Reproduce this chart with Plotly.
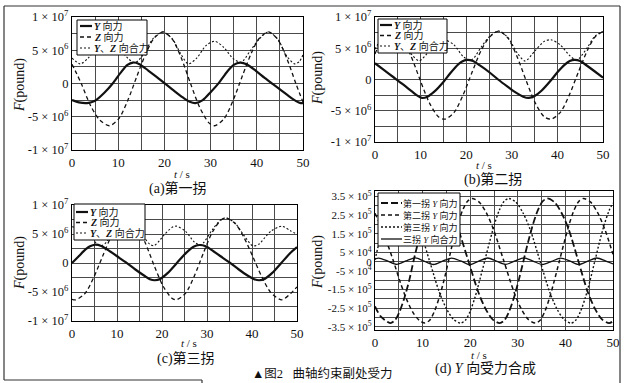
import plotly.graph_objects as go

# ---------------- data ----------------
# panels (a)-(c): force in units of 1e6 pound ; time in s
ta_y = [0, 1.5, 3.3, 5, 7, 8.8, 10.5, 12, 13.2, 14.5, 16.5, 18.3, 20, 22, 24, 25.5, 26.7, 28.3, 30, 31.8,
        33.5, 35, 36.4, 37.8, 39.8, 41.7, 43.5, 45.5, 47.5, 48.5, 49.5, 50]
a_y = [-2.5, -2.85, -2.95, -2.6, -1.4, 0.0, 1.6, 2.8, 3.15, 2.95, 1.95, 1.0, 0.05, -1.05, -2.1, -2.75, -2.95, -2.5, -1.3, 0.1,
       1.7, 2.8, 3.15, 2.9, 1.9, 0.85, -0.1, -1.15, -2.2, -2.65, -2.95, -2.95]
ta_z = [0, 1, 2, 4, 6, 8.1, 10.1, 12.1, 14.1, 16.1, 17.7, 19.7, 21.7, 23.7, 25.7, 27.7, 29.7, 30.9, 32.9, 34.9,
        36.9, 38.9, 40.5, 42.5, 44.5, 46.5, 48.5, 50]
a_z = [2.9, 1.5, 0.0, -3.3, -5.5, -6.35, -5.31, -2.5, 1.19, 4.69, 6.76, 7.75, 6.67, 3.76, -0.09, -3.69, -5.96, -6.35, -5.31, -2.5,
       1.19, 4.69, 6.76, 7.75, 6.67, 3.76, -0.09, -2.8]
ta_r = [0, 1.8, 3.5, 5, 6.5, 8.1, 10.1, 12.1, 13.6, 15.2, 17.7, 19.7, 21.7, 23.5, 25.2, 27, 29, 30.9, 32.9, 34.9,
        36.6, 38.5, 40.5, 42.5, 44.5, 46.5, 48.2, 49.2, 50]
a_r = [3.83, 2.95, 3.83, 5.11, 6.07, 6.4, 5.46, 3.79, 3.11, 4.12, 6.88, 7.75, 6.73, 4.5, 2.95, 3.83, 5.7, 6.35, 5.4, 3.72,
       3.19, 4.83, 6.67, 7.76, 6.7, 4.1, 2.95, 3.3, 4.3]

tb_y = [0, 2, 4, 6, 8, 9.2, 10.3, 11.5, 13, 15, 16.5, 18, 19, 20.2, 21.5, 23, 25, 27, 29, 31,
        32.5, 33.7, 35, 36.5, 38.5, 40, 41.5, 42.7, 43.8, 45, 46.5, 48, 50]
b_y = [2.6, 1.5, 0.4, -0.7, -1.85, -2.55, -2.95, -2.75, -1.95, -0.4, 1.0, 2.25, 2.85, 3.15, 2.95, 2.25, 1.2, 0.0, -1.1, -2.15,
       -2.75, -2.95, -2.65, -1.8, -0.2, 1.15, 2.3, 2.95, 3.15, 2.95, 2.2, 1.4, 0.3]
tb_z = [0, 1.9, 3.9, 5.9, 7.9, 9.9, 11.9, 13.9, 15.3, 17.3, 19.3, 21.3, 23.3, 25.1, 27.1, 29.1, 31.1, 33.1, 35.1, 37.1,
        38.6, 40.6, 42.6, 44.6, 46.6, 48.2, 50]
b_z = [4.1, 6.76, 7.75, 6.67, 3.76, -0.09, -3.69, -5.96, -6.35, -5.31, -2.5, 1.19, 4.69, 6.76, 7.75, 6.67, 3.76, -0.09, -3.69, -5.96,
       -6.35, -5.31, -2.5, 1.19, 4.69, 6.76, 7.7]
tb_r = [0, 1.9, 3.9, 5.9, 7.9, 9.7, 11.9, 13.9, 15.3, 17.3, 19.3, 20.7, 21.5, 23.3, 25.1, 27.1, 29.1, 31.1, 32.9, 35.1,
        37.1, 38.6, 40.6, 42.6, 44, 44.8, 46.6, 48.2, 50]
b_r = [4.85, 6.95, 7.77, 6.7, 4.13, 3.0, 4.55, 6.1, 6.36, 5.55, 3.7, 3.1, 3.3, 5.2, 6.87, 7.75, 6.76, 4.35, 2.95, 4.6,
       6.1, 6.35, 5.55, 3.9, 3.15, 3.4, 5.15, 6.9, 7.7]

tc_y = [0, 1.5, 3, 4, 5.1, 6.5, 8.5, 10.5, 12, 14, 16, 17.3, 18.4, 19.7, 21.3, 23.3, 25.3, 27, 28.3, 29.7,
        31.5, 33.5, 35, 37, 39, 40.5, 41.6, 42.9, 44.5, 46.5, 48.5, 50]
c_y = [0.0, 1.17, 2.34, 2.88, 3.15, 2.93, 1.98, 0.9, 0.09, -1.08, -2.16, -2.79, -2.97, -2.7, -1.71, 0.0, 1.71, 2.79, 3.1, 2.88,
       1.98, 0.9, 0.09, -1.08, -2.16, -2.79, -2.97, -2.7, -1.71, 0.0, 1.71, 2.75]
tc_z = [0, 0.8, 2.8, 4.8, 6.8, 8.8, 10.3, 12.2, 14.2, 16.2, 18.2, 20.2, 22.2, 23.2, 25.2, 27.2, 29.2, 31.2, 33.2, 34.2,
        36.2, 38.2, 40.2, 42.2, 44.2, 46.6, 48.6, 50]
c_z = [-6.26, -6.35, -5.33, -2.55, 1.16, 4.78, 6.82, 7.75, 6.64, 3.62, -0.32, -3.94, -6.08, -6.35, -5.24, -2.22, 1.72, 5.34, 7.47, 7.75,
       6.86, 4.43, 1.06, -2.41, -5.1, -6.35, -5.24, -4.12]
tc_r = [0, 2, 4, 5.5, 6.5, 7.5, 9, 10.5, 12.2, 14.2, 16.2, 17.3, 18.2, 19.5, 20.2, 22.2, 23.2, 25.2, 27.2, 28.5,
        29.2, 31.2, 33.2, 34.2, 36.2, 38.2, 40.2, 41.6, 42.2, 44.2, 46.6, 48.6, 50]
c_r = [6.26, 5.9, 4.66, 3.34, 2.99, 3.47, 5.28, 6.96, 7.75, 6.75, 4.24, 3.22, 2.97, 3.92, 4.61, 6.13, 6.35, 5.49, 3.61, 3.08,
       3.46, 5.76, 7.54, 7.77, 6.9, 4.78, 2.95, 3.28, 3.77, 5.48, 6.35, 5.53, 4.95]

# panel (d): Y force in units of 1e5 pound
td1 = [0, 1.2, 3.2, 4.2, 5.2, 6.2, 7.2, 8.1, 9.1, 10.1, 11.1, 12.1, 13.0, 14.5, 16, 17.5, 19.6, 21.7, 23.2, 24.7,
       26.2, 27.2, 28.2, 29.2, 30.2, 31.2, 32.2, 33.2, 34.2, 35.2, 36.2, 37.7, 39.2, 40.7, 42.7, 44.7, 46.2, 47.7, 49.2, 50]
d1 = [-2.4, -2.94, -3.3, -3.14, -2.66, -1.92, -0.99, 0.05, 1.09, 2.02, 2.76, 3.24, 3.4, 3.2, 2.62, 1.73, 0.05, -1.63, -2.52, -3.1,
      -3.3, -3.14, -2.66, -1.92, -0.99, 0.05, 1.09, 2.02, 2.76, 3.24, 3.4, 3.2, 2.62, 1.73, 0.05, -1.63, -2.52, -3.1, -3.3, -3.2]
td2 = [0, 1.1, 2.5, 3.85, 5.3, 6.6, 8, 9.3, 10.5, 11.5, 12.5, 13.5, 14.5, 15.45, 16.4, 17.4, 18.4, 19.4, 20.4, 21.9,
       23.4, 24.9, 27.05, 29.2, 30.7, 32.2, 33.7, 34.7, 35.7, 36.7, 37.7, 38.75, 39.8, 40.8, 41.8, 42.8, 43.8, 45.3, 46.8, 48.3, 50]
d2 = [2.6, 2.0, 1.05, 0.05, -1.1, -2.0, -2.74, -3.15, -3.3, -3.14, -2.66, -1.92, -0.99, 0.05, 1.09, 2.02, 2.76, 3.24, 3.4, 3.2,
      2.62, 1.73, 0.05, -1.63, -2.52, -3.1, -3.3, -3.14, -2.66, -1.92, -0.99, 0.05, 1.09, 2.02, 2.76, 3.24, 3.4, 3.2, 2.62, 1.73, 0.4]
td3 = [0, 1, 2, 3, 4, 4.9, 6.4, 7.9, 9.4, 11.45, 13.5, 15, 16.5, 18, 19, 20, 21, 22, 23.05, 24.1,
       25.1, 26.1, 27.1, 28.1, 29.6, 31.1, 32.6, 34.65, 36.7, 38.2, 39.7, 41.2, 42.2, 43.2, 44.2, 45.2, 46.2, 47.2, 48.2, 49.2, 50]
d3 = [0.1, 1.18, 2.05, 2.78, 3.25, 3.4, 3.2, 2.62, 1.73, 0.05, -1.63, -2.52, -3.1, -3.3, -3.14, -2.66, -1.92, -0.99, 0.05, 1.09,
      2.02, 2.76, 3.24, 3.4, 3.2, 2.62, 1.73, 0.05, -1.63, -2.52, -3.1, -3.3, -3.14, -2.66, -1.92, -0.99, 0.05, 1.09, 2.02, 2.76, 3.15]
tdr = [0, 0.8, 2.7, 4.6, 6.5, 8.5, 10.4, 12.3, 14.2, 16.1, 18, 19.9, 21.8, 23.7, 25.6, 27.5, 29.4, 31.3, 33.2, 35.2,
       37.1, 39, 40.9, 42.8, 44.7, 46.6, 48.5, 50]
dr = [0.15, 0.19, 0.03, -0.14, 0.04, 0.21, 0.02, -0.15, 0.03, 0.19, 0.04, -0.16, 0.03, 0.2, 0.02, -0.14, 0.04, 0.21, 0.03, -0.15,
      0.02, 0.19, 0.04, -0.15, 0.03, 0.2, 0.03, -0.12]

# labelled ticks and extra (unlabelled) grid positions
x_ticks = [0, 10, 20, 30, 40, 50]
x_minor = [5, 15, 25, 35, 45]
y_ticks_abc = [1e7, 5e6, 0, -5e6, -1e7]
y_text_abc = ["1 × 10<sup>7</sup>", "5 × 10<sup>6</sup>", "0", "-5 × 10<sup>6</sup>", "-1 × 10<sup>7</sup>"]
y_minor_abc = [7.5e6, 2.5e6, -2.5e6, -7.5e6]
y_ticks_d = [3.5e5, 2.5e5, 1.5e5, 5e4, 0, -5e4, -1.5e5, -2.5e5, -3.5e5]
y_text_d = ["3.5 × 10<sup>5</sup>", "2.5 × 10<sup>5</sup>", "1.5 × 10<sup>5</sup>", "5 × 10<sup>4</sup>", "0",
            "-5 × 10<sup>4</sup>", "-1.5 × 10<sup>5</sup>", "-2.5 × 10<sup>5</sup>", "-3.5 × 10<sup>5</sup>"]
y_minor_d = [3e5, 2e5, 1e5, -1e5, -2e5, -3e5]

leg_abc = ["<b><i>Y</i></b> 向力", "<b><i>Z</i></b> 向力", "<b><i>Y</i></b>、<b><i>Z</i></b> 向合力"]
leg_d = ["第一拐 <i>Y</i> 向力", "第二拐 <i>Y</i> 向力", "第三拐 <i>Y</i> 向力", "三拐 <i>Y</i> 向合力"]

# ---------------- figure ----------------
W, H = 632, 383
def px(x): return x / W
def py(y): return 1 - y / H

SERIF = "Liberation Serif, Noto Sans CJK SC, serif"
INK = "#111111"
GRID = "#4a4a4a"

sY = dict(color=INK, width=2.2)
sZ = dict(color=INK, width=1.3, dash="4px,3px")
sR = dict(color=INK, width=1.1, dash="2px,2px")
s1 = dict(color=INK, width=1.8, dash="7px,3px")
s2 = dict(color=INK, width=1.5, dash="4px,3px")
s3 = dict(color=INK, width=1.4, dash="2px,2px")
sD = dict(color=INK, width=1.3)

fig = go.Figure()

def add(t, v, scale, ax, style):
    fig.add_trace(go.Scatter(x=t, y=[u * scale for u in v], mode="lines", line=dict(shape="spline", smoothing=0.8, **style),
                             xaxis="x" + ax, yaxis="y" + ax, showlegend=False, hoverinfo="skip"))

add(ta_y, a_y, 1e6, "", sY); add(ta_z, a_z, 1e6, "", sZ); add(ta_r, a_r, 1e6, "", sR)
add(tb_y, b_y, 1e6, "2", sY); add(tb_z, b_z, 1e6, "2", sZ); add(tb_r, b_r, 1e6, "2", sR)
add(tc_y, c_y, 1e6, "3", sY); add(tc_z, c_z, 1e6, "3", sZ); add(tc_r, c_r, 1e6, "3", sR)
add(td1, d1, 1e5, "4", s1); add(td2, d2, 1e5, "4", s2); add(td3, d3, 1e5, "4", s3); add(tdr, dr, 1e5, "4", sD)

def minor(vals):
    return dict(tickmode="array", tickvals=vals, showgrid=True, gridcolor=GRID, gridwidth=1, ticks="")

def xaxis(dom, anchor):
    return dict(domain=[px(dom[0]), px(dom[1])], anchor=anchor, range=[0, 50], tickmode="array",
                tickvals=x_ticks, ticktext=[str(v) for v in x_ticks], showgrid=True, gridcolor=GRID, gridwidth=1,
                minor=minor(x_minor),
                zeroline=False, showline=True, linecolor="black", linewidth=1.2, mirror=True, ticks="",
                automargin=False, tickfont=dict(family=SERIF, size=13, color=INK), fixedrange=True)

def yaxis(dom, anchor, rng, tv, tt, mv, fsize):
    return dict(domain=[py(dom[1]), py(dom[0])], anchor=anchor, range=rng, tickmode="array",
                tickvals=tv, ticktext=tt, showgrid=True, gridcolor=GRID, gridwidth=1,
                minor=minor(mv),
                zeroline=False, showline=True, linecolor="black", linewidth=1.2, mirror=True, ticks="",
                automargin=False, tickfont=dict(family=SERIF, size=fsize, color=INK), fixedrange=True)

fig.update_layout(
    template="none",
    width=W, height=H, margin=dict(l=0, r=0, t=0, b=0, pad=0), autosize=False,
    paper_bgcolor="white", plot_bgcolor="white", showlegend=False,
    xaxis=xaxis((72, 303), "y"), yaxis=yaxis((17, 150), "x", [-1e7, 1e7], y_ticks_abc, y_text_abc, y_minor_abc, 12.5),
    xaxis2=xaxis((375, 603), "y2"), yaxis2=yaxis((17, 142), "x2", [-1e7, 1e7], y_ticks_abc, y_text_abc, y_minor_abc, 12.5),
    xaxis3=xaxis((72, 297), "y3"), yaxis3=yaxis((205, 321), "x3", [-1e7, 1e7], y_ticks_abc, y_text_abc, y_minor_abc, 12.5),
    xaxis4=xaxis((375, 613), "y4"), yaxis4=yaxis((191, 330), "x4", [-3.67e5, 3.8e5], y_ticks_d, y_text_d, y_minor_d, 11),
)

shapes, annos = [], []

def text(x, y, s, size, angle=0, anchor="center"):
    annos.append(dict(x=px(x), y=py(y), xref="paper", yref="paper", text=s, showarrow=False, textangle=angle,
                      xanchor=anchor, yanchor="middle", borderpad=0,
                      font=dict(family=SERIF, size=size, color=INK)))

def legend(box, rows, sx, tx, labels, styles, size):
    x0, y0, x1, y1 = box
    shapes.append(dict(type="rect", xref="paper", yref="paper", x0=px(x0), x1=px(x1), y0=py(y1), y1=py(y0),
                       fillcolor="white", line=dict(color="black", width=1)))
    for ry, lab, st in zip(rows, labels, styles):
        shapes.append(dict(type="line", xref="paper", yref="paper", x0=px(sx[0]), x1=px(sx[1]), y0=py(ry), y1=py(ry),
                           line=st))
        text(tx, ry, lab, size, anchor="left")

legend((77, 20, 147, 55), [26, 37, 48], (80, 92), 93, leg_abc, [sY, sZ, sR], 10)
legend((378, 19, 447, 53), [25, 35.5, 46], (380, 392), 393, leg_abc, [sY, sZ, sR], 10)
legend((74, 204, 145, 240), [212, 222.5, 233], (76, 88), 89, leg_abc, [sY, sZ, sR], 10)
legend((378, 193, 460, 246), [203, 215, 227, 239], (381, 402), 402, leg_d, [s1, s2, s3, sD], 9)

# axis titles and captions
for (x, y) in [(20, 85), (318, 78), (20, 263), (318, 262)]:
    text(x, y, "<i>F</i>(pound)", 14, angle=-90)
for (x, y) in [(182, 174), (484, 165), (189, 343), (479, 355)]:
    text(x, y, "<i>t</i> / s", 11)
text(178, 188, "(a)第一拐", 14)
text(493, 179, "(b)第二拐", 14)
text(186, 358, "(c)第三拐", 14)
text(485, 369, "(d) <i>Y</i> 向受力合成", 14)
text(323, 373, "▲图2   曲轴约束副处受力", 12.5)

# page frame of the scanned figure
FR = dict(color="#333333", width=1.2)
for (xa, ya, xb, yb) in [(4, 6, 620, 6), (4, 6, 4, 380), (4, 380, 202, 380), (202, 380, 202, 383), (620, 6, 620, 383)]:
    shapes.append(dict(type="line", xref="paper", yref="paper", x0=px(xa), y0=py(ya), x1=px(xb), y1=py(yb), line=FR))

fig.update_layout(shapes=shapes, annotations=annos)
# the page's default 8px body margin would shift the figure; remove it so the chart fills the window
fig.write_html("out.html", config={"displayModeBar": False},
               post_script="document.body.style.margin='0px';document.body.style.overflow='hidden';")
